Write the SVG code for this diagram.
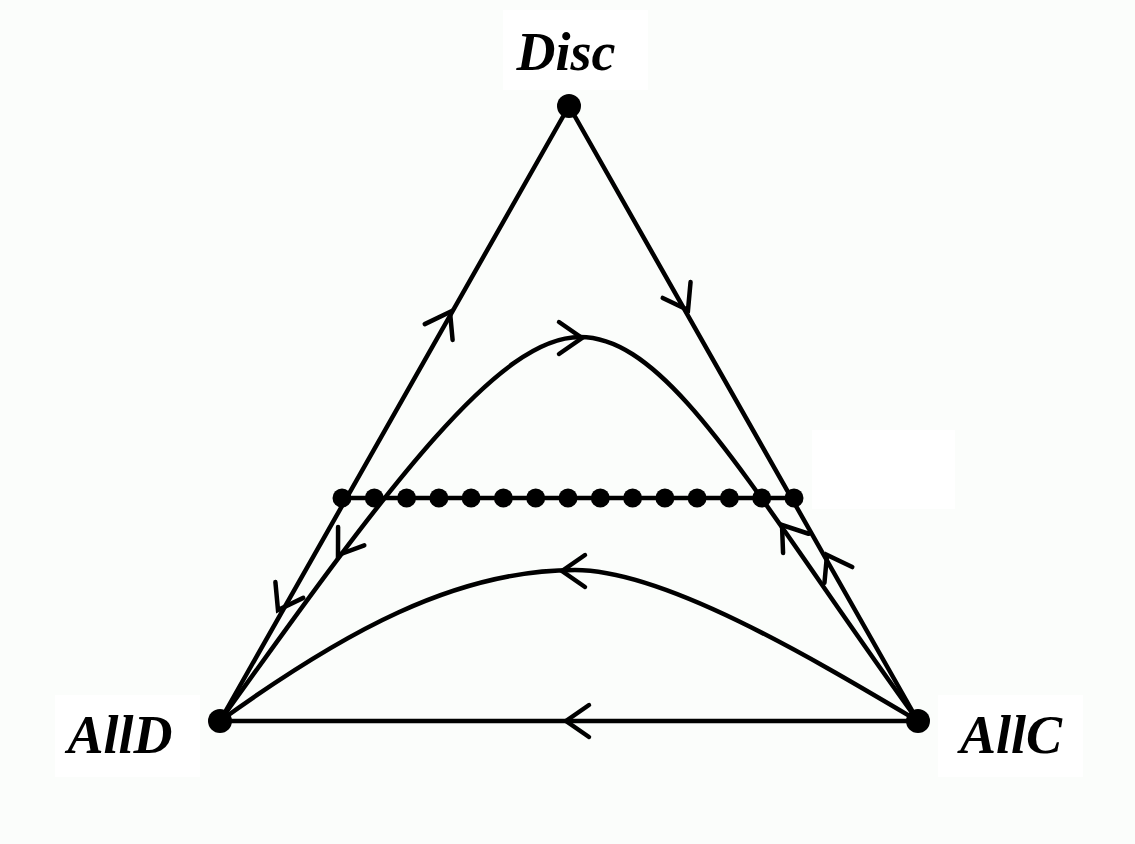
<svg xmlns="http://www.w3.org/2000/svg" xmlns:xlink="http://www.w3.org/1999/xlink" width="1135" height="844" viewBox="0 0 1135 844">
  <style>
    .ln { fill: none; stroke: #000; stroke-width: 4.5; stroke-linecap: round; stroke-linejoin: round; }
    .ah { fill: none; stroke: #000; stroke-width: 4.5; stroke-linecap: round; stroke-linejoin: miter; }
    .lbl { font-family: "Liberation Serif", "Times New Roman", serif; font-weight: bold; font-style: italic; font-size: 54px; fill: #000; text-anchor: middle; }
    .box { fill: #ffffff; }
  </style>
  <defs>
    <path id="ah" class="ah" d="M-23,-16 L0,0 L-23,16"/>
    <circle id="dot" r="9.5" fill="#000"/>
  </defs>
  <rect width="1135" height="844" fill="#fbfdfb"/>
  <rect class="box" x="812" y="430" width="143" height="79"/>

  <g id="connectors">
    <!-- triangle edges -->
    <line class="ln" x1="569" y1="106" x2="220" y2="721"/>
    <line class="ln" x1="569" y1="106" x2="918" y2="721"/>
    <line class="ln" x1="220" y1="721" x2="918" y2="721"/>
    <!-- upper trajectory -->
    <path class="ln" d="M220,721 C394,477 500,337 580,337 C670,337 753,493 918,721"/>
    <!-- lower trajectory -->
    <path class="ln" d="M220,721 C342,633 455,570 575,570 C665,570 815,660 918,721"/>
    <!-- arrowheads -->
    <use xlink:href="#ah" transform="translate(450,312) rotate(-60.5)"/>
    <use xlink:href="#ah" transform="translate(688,310) rotate(60.4)"/>
    <use xlink:href="#ah" transform="translate(582,338) rotate(0)"/>
    <use xlink:href="#ah" transform="translate(562,571) rotate(180)"/>
    <use xlink:href="#ah" transform="translate(566,721) rotate(180)"/>
    <use xlink:href="#ah" transform="translate(278,610) rotate(119.5)"/>
    <use xlink:href="#ah" transform="translate(338,555) rotate(125)"/>
    <use xlink:href="#ah" transform="translate(782,525) rotate(-127)"/>
    <use xlink:href="#ah" transform="translate(827,555) rotate(-119.6)"/>
  </g>

  <g id="fixed-line">
    <line class="ln" x1="342" y1="498" x2="794" y2="498"/>
    <use xlink:href="#dot" x="342" y="498"/>
    <use xlink:href="#dot" x="374.3" y="498"/>
    <use xlink:href="#dot" x="406.6" y="498"/>
    <use xlink:href="#dot" x="438.9" y="498"/>
    <use xlink:href="#dot" x="471.1" y="498"/>
    <use xlink:href="#dot" x="503.4" y="498"/>
    <use xlink:href="#dot" x="535.7" y="498"/>
    <use xlink:href="#dot" x="568" y="498"/>
    <use xlink:href="#dot" x="600.3" y="498"/>
    <use xlink:href="#dot" x="632.6" y="498"/>
    <use xlink:href="#dot" x="664.9" y="498"/>
    <use xlink:href="#dot" x="697.1" y="498"/>
    <use xlink:href="#dot" x="729.4" y="498"/>
    <use xlink:href="#dot" x="761.7" y="498"/>
    <use xlink:href="#dot" x="794" y="498"/>
  </g>

  <g id="node-disc">
    <rect class="box" x="503" y="10" width="145" height="80"/>
    <text class="lbl" x="566" y="70">Disc</text>
    <circle cx="569" cy="106" r="12" fill="#000"/>
  </g>
  <g id="node-alld">
    <rect class="box" x="55" y="695" width="145" height="82"/>
    <text class="lbl" x="120" y="753">AllD</text>
    <circle cx="220" cy="721" r="12" fill="#000"/>
  </g>
  <g id="node-allc">
    <rect class="box" x="938" y="695" width="145" height="82"/>
    <text class="lbl" x="1011" y="753">AllC</text>
    <circle cx="918" cy="721" r="12" fill="#000"/>
  </g>
</svg>
